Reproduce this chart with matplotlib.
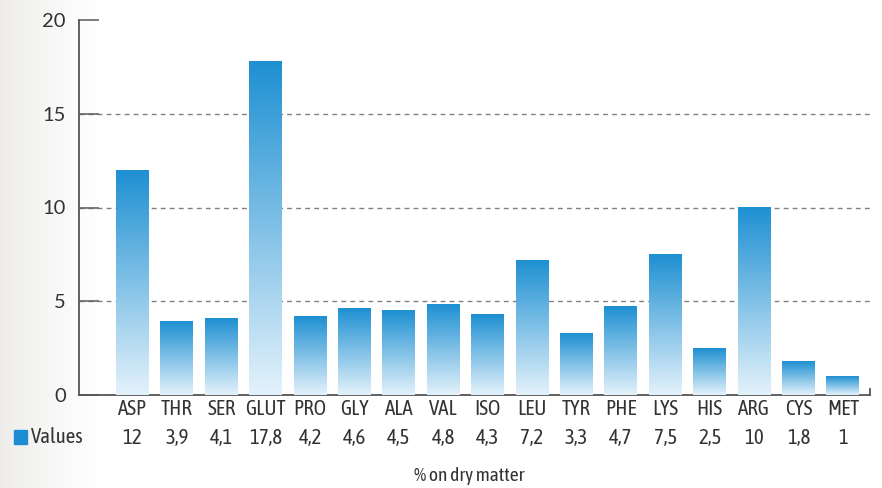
import numpy as np
import matplotlib
matplotlib.use("Agg")
import matplotlib.pyplot as plt

# 数据
categories = ['ASP', 'THR', 'SER', 'GLUT', 'PRO', 'GLY', 'ALA', 'VAL', 'ISO',
              'LEU', 'TYR', 'PHE', 'LYS', 'HIS', 'ARG', 'CYS', 'MET']
values = [12, 3.9, 4.1, 17.8, 4.2, 4.6, 4.5, 4.8, 4.3, 7.2, 3.3, 4.7, 7.5, 2.5, 10, 1.8, 1]
value_labels = ['12', '3,9', '4,1', '17,8', '4,2', '4,6', '4,5', '4,8', '4,3',
                '7,2', '3,3', '4,7', '7,5', '2,5', '10', '1,8', '1']
y_ticks = [0, 5, 10, 15, 20]

narrow = ['Asap Condensed', 'Archivo Narrow', 'DejaVu Sans']
txt = '#333333'

W, H = 882, 488
fig = plt.figure(figsize=(W / 100, H / 100), dpi=100)

# 左侧浅灰背景渐变
bg = fig.add_axes([0, 0, 1, 1], zorder=-10)
t = np.clip(np.linspace(0, 1, 400) / 0.11, 0, 1)[None, :, None] ** 0.8
g = np.array([0.93, 0.925, 0.915]) * (1 - t) + np.array([1.0, 1.0, 1.0]) * t
bg.imshow(g, extent=[0, 1, 0, 1], aspect='auto')
bg.axis('off')

ax = fig.add_axes([79 / W, 1 - 395 / H, (870 - 79) / W, 375 / H])
ax.patch.set_alpha(0)

x = np.arange(len(categories))
bw = 0.74
top = np.array([30, 144, 210]) / 255
bot = np.array([228, 242, 251]) / 255
grad = np.linspace(0, 1, 256)[:, None, None]
cmap_img = top * (1 - grad) + bot * grad  # 顶部深色，底部浅色
for xi, v in zip(x, values):
    ax.imshow(cmap_img, extent=[xi - bw / 2, xi + bw / 2, 0, v], aspect='auto',
              zorder=3, interpolation='bilinear')

for yv in [5, 10, 15]:
    ax.axhline(yv, color='#808080', lw=1, ls=(0, (3.5, 3)), zorder=1)

ax.set_xlim(-1.205, 16.61)
ax.set_ylim(0, 20)

for s in ['top', 'right']:
    ax.spines[s].set_visible(False)
for s in ['left', 'bottom']:
    ax.spines[s].set_color('#555555')
    ax.spines[s].set_linewidth(1.3)
ax.plot([1, 1], [0, 0.016], transform=ax.transAxes, color='#555555', lw=1.3, clip_on=False)

ax.set_yticks(y_ticks)
ax.set_yticklabels([str(v) for v in y_ticks], fontsize=14.5, family='Lato', color=txt)
ax.tick_params(axis='y', direction='in', length=14.5, width=1.2, color='#666666', pad=-0.5)
for lab in ax.get_yticklabels():
    lab.set_x(-14 / 791)

ax.set_xticks(x)
ax.set_xticklabels(categories, fontsize=15, family=narrow, color=txt)
ax.tick_params(axis='x', length=0, pad=3)

# 数值行
for xi, lab in zip(x, value_labels):
    ax.text(xi, -0.114, lab, transform=ax.get_xaxis_transform(), ha='center', va='center',
            fontsize=15, family=narrow, color=txt)

fig.patches.append(plt.Rectangle((14 / W, 1 - 444 / H), 13 / W, 14 / H, transform=fig.transFigure,
                                 color='#1e8cd2'))
fig.text(31 / W, 1 - 437 / H, 'Values', ha='left', va='center', fontsize=15, family=narrow, color=txt)
fig.text(469 / W, 1 - 476 / H, '% on dry matter', ha='center', va='center', fontsize=14,
         family=narrow, color=txt)

fig.savefig('out.png', dpi=100)
